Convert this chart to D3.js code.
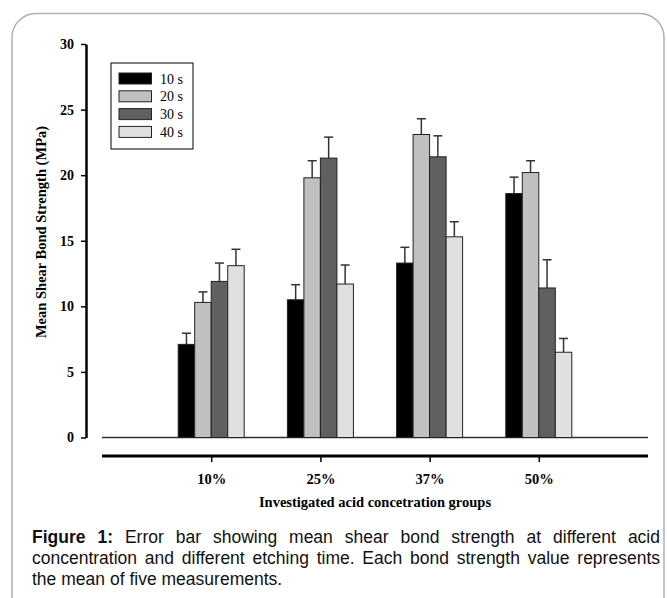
<!DOCTYPE html>
<html><head><meta charset="utf-8">
<script src="https://cdn.jsdelivr.net/npm/d3@7"></script>
<style>body{margin:0;background:#fff}svg{display:block}</style>
</head><body>
<script>
const categories = ["10%", "25%", "37%", "50%"];
const seriesNames = ["10 s", "20 s", "30 s", "40 s"];
const seriesColors = ["#000000", "#c0c0c0", "#606060", "#e0e0e0"];
// means per series, indexed by category
const means = [
  [7.1, 10.5, 13.3, 18.6],
  [10.3, 19.8, 23.1, 20.2],
  [11.9, 21.3, 21.4, 11.4],
  [13.1, 11.7, 15.3, 6.5]
];
const errors = [
  [0.85, 1.15, 1.2, 1.25],
  [0.8, 1.3, 1.2, 0.9],
  [1.4, 1.6, 1.6, 2.15],
  [1.25, 1.45, 1.15, 1.05]
];
const yTicks = [0, 5, 10, 15, 20, 25, 30];
const yTitle = "Mean Shear Bond Strength (MPa)";
const xTitle = "Investigated acid concetration groups";
const captionLines = [
  "Figure 1: Error bar showing mean shear bond strength at different acid",
  "concentration and different etching time. Each bond strength value represents",
  "the mean of five measurements."
];

const W = 667, H = 598;
const svg = d3.select("body").append("svg").attr("width", W).attr("height", H);

// frame
svg.append("rect").attr("x", 12).attr("y", 13.5).attr("width", 652).attr("height", 640)
  .attr("rx", 24).attr("fill", "none").attr("stroke", "#b0b0b0").attr("stroke-width", 1.5);

const x = d3.scalePoint().domain(categories).range([102, 648]).padding(1);
const inner = d3.scaleBand().domain(seriesNames).range([-33, 33]).paddingInner(0);
const y = d3.scaleLinear().domain([0, 30]).range([437.5, 44]);

const serif = "'Liberation Serif','Times New Roman',serif";

// y axis
const yAxis = svg.append("g").attr("transform", "translate(86,0)")
  .call(d3.axisLeft(y).tickValues(yTicks).tickSize(5).tickSizeOuter(0).tickPadding(7));
yAxis.select(".domain").attr("stroke", "#000").attr("stroke-width", 2.5);
yAxis.selectAll(".tick line").attr("stroke", "#000").attr("stroke-width", 1.5);
yAxis.selectAll(".tick text").attr("font-family", serif).attr("font-weight", "bold")
  .attr("font-size", 14).attr("fill", "#000");

svg.append("text").attr("transform", "translate(46,232) rotate(-90)")
  .attr("text-anchor", "middle").attr("font-family", serif).attr("font-weight", "bold")
  .attr("font-size", 14.5).text(yTitle);

// baseline
svg.append("line").attr("x1", 102).attr("x2", 648).attr("y1", y(0)).attr("y2", y(0))
  .attr("stroke", "#333").attr("stroke-width", 1.5);

// bars
seriesNames.forEach((s, si) => {
  const g = svg.append("g");
  categories.forEach((c, ci) => {
    const x0 = x(c) + inner(s);
    const v = means[si][ci], e = errors[si][ci];
    const cx = x0 + inner.bandwidth() / 2;
    g.append("line").attr("x1", cx).attr("x2", cx).attr("y1", y(v)).attr("y2", y(v + e))
      .attr("stroke", "#333").attr("stroke-width", 1.5);
    g.append("line").attr("x1", cx - 4.5).attr("x2", cx + 4.5).attr("y1", y(v + e)).attr("y2", y(v + e))
      .attr("stroke", "#333").attr("stroke-width", 1.5);
    g.append("rect").attr("x", x0).attr("y", y(v)).attr("width", inner.bandwidth())
      .attr("height", y(0) - y(v)).attr("fill", seriesColors[si])
      .attr("stroke", "#222").attr("stroke-width", 1);
  });
});

// x axis (thick line below)
const xAxis = svg.append("g").attr("transform", "translate(0,456)")
  .call(d3.axisBottom(x).tickSize(6).tickSizeOuter(0).tickPadding(12));
xAxis.select(".domain").remove();
xAxis.append("line").attr("x1", 102).attr("x2", 648).attr("y1", 0).attr("y2", 0)
  .attr("stroke", "#000").attr("stroke-width", 3);
xAxis.selectAll(".tick line").attr("stroke", "#000").attr("stroke-width", 1.5);
xAxis.selectAll(".tick text").attr("font-family", serif).attr("font-weight", "bold")
  .attr("font-size", 14.5).attr("fill", "#000");

svg.append("text").attr("x", 375).attr("y", 507).attr("text-anchor", "middle")
  .attr("font-family", serif).attr("font-weight", "bold").attr("font-size", 14.5).text(xTitle);

// legend
const leg = svg.append("g");
leg.append("rect").attr("x", 111).attr("y", 63).attr("width", 82).attr("height", 86)
  .attr("fill", "#fff").attr("stroke", "#000").attr("stroke-width", 1);
seriesNames.forEach((s, i) => {
  const yy = 73 + i * 17.8;
  leg.append("rect").attr("x", 119).attr("y", yy).attr("width", 32.5).attr("height", 11)
    .attr("fill", seriesColors[i]).attr("stroke", "#222").attr("stroke-width", 1);
  leg.append("text").attr("x", 160).attr("y", yy + 10.5).attr("font-family", serif)
    .attr("font-size", 14).text(s);
});

// caption, justified lines
const sans = "'Liberation Sans',Arial,sans-serif";
const capLeft = 32, capRight = 660, capSize = 17.5;
const measure = svg.append("text").attr("font-family", sans).attr("font-size", capSize);
function wlen(t, b) { measure.attr("font-weight", b ? "bold" : "normal").text(t); return measure.node().getComputedTextLength(); }
const spaceW = 4.9;
captionLines.forEach((line, li) => {
  const ws = line.split(" ").map((t, i) => ({t, b: li === 0 && i < 2}));
  ws.forEach(w => w.len = wlen(w.t, w.b));
  const total = d3.sum(ws, w => w.len);
  const last = li === captionLines.length - 1;
  const gap = last ? spaceW : (capRight - capLeft - total) / (ws.length - 1);
  let xx = capLeft;
  ws.forEach(w => {
    svg.append("text").attr("x", xx).attr("y", 543 + li * 21).attr("font-family", sans)
      .attr("font-size", capSize).attr("font-weight", w.b ? "bold" : "normal").attr("fill", "#111").text(w.t);
    xx += w.len + gap;
  });
});
measure.remove();
</script>
</body></html>
